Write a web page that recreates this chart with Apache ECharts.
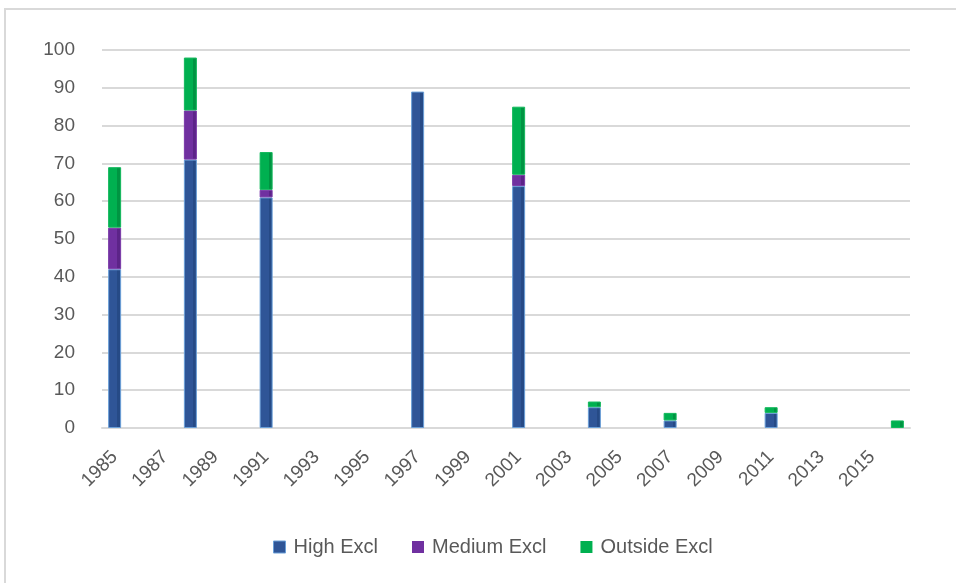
<!DOCTYPE html>
<html>
<head>
<meta charset="utf-8">
<script src="https://cdn.jsdelivr.net/npm/echarts@6/dist/echarts.min.js"></script>
<style>
  html, body { margin: 0; padding: 0; background: #fff; }
  #chart { width: 956px; height: 583px; }
</style>
</head>
<body>
<div id="chart"></div>
<script>
const years = [
  '1985', '1986', '1987', '1988', '1989', '1990', '1991', '1992',
  '1993', '1994', '1995', '1996', '1997', '1998', '1999', '2000',
  '2001', '2002', '2003', '2004', '2005', '2006', '2007', '2008',
  '2009', '2010', '2011', '2012', '2013', '2014', '2015', '2016',
]

// values per year, null where no bar is drawn
const highExcl = [
  42, null, null, 71, null, null, 61, null,
  null, null, null, null, 89, null, null, null,
  64, null, null, 5.5, null, null, 2, null,
  null, null, 4, null, null, null, null, null,
]
const mediumExcl = [
  11, null, null, 13, null, null, 2, null,
  null, null, null, null, null, null, null, null,
  3, null, null, null, null, null, null, null,
  null, null, null, null, null, null, null, null,
]
const outsideExcl = [
  16, null, null, 14, null, null, 10, null,
  null, null, null, null, null, null, null, null,
  18, null, null, 1.5, null, null, 2, null,
  null, null, 1.5, null, null, null, null, 2,
]

const yTicks = { min: 0, max: 100, interval: 10 }

const chart = echarts.init(document.getElementById('chart'))

const textColor = '#595959'
const font = '"Liberation Sans", Arial, sans-serif'

const series = [
  { name: 'High Excl', data: highExcl, color: '#2f5597', side: '#264a86', border: '#6a9fd8' },
  { name: 'Medium Excl', data: mediumExcl, color: '#7030a0', side: '#5c2488', border: '#7a3aa8' },
  { name: 'Outside Excl', data: outsideExcl, color: '#00b050', side: '#009442', border: '#12b85c' },
].map((s) => ({
  type: 'bar',
  name: s.name,
  stack: 'total',
  data: s.data,
  barWidth: 13,
  itemStyle: {
    color: new echarts.graphic.LinearGradient(0, 0, 1, 0, [
      { offset: 0, color: s.color },
      { offset: 0.72, color: s.color },
      { offset: 0.72, color: s.side },
      { offset: 1, color: s.side },
    ]),
    borderColor: s.border,
    borderWidth: 1,
  },
}))

chart.setOption({
  animation: false,
  color: ['#2f5597', '#7030a0', '#00b050'],
  textStyle: { fontFamily: font },
  graphic: [
    {
      type: 'rect',
      shape: { x: 5, y: 9, width: 1000, height: 1000 },
      style: { fill: 'none', stroke: '#d9d9d9', lineWidth: 2 },
      silent: true,
    },
  ],
  legend: {
    bottom: 21,
    left: 268,
    itemWidth: 12,
    itemHeight: 12,
    itemGap: 34,
    icon: 'rect',
    textStyle: { color: textColor, fontSize: 20, fontFamily: font, padding: [0, 0, 0, 3] },
    data: [
      { name: 'High Excl', itemStyle: { color: '#2f5597', borderColor: '#6a9fd8', borderWidth: 1 } },
      { name: 'Medium Excl', itemStyle: { color: '#7030a0', borderWidth: 0 } },
      { name: 'Outside Excl', itemStyle: { color: '#00b050', borderWidth: 0 } },
    ],
  },
  grid: { left: 102, right: 46, top: 50, bottom: 155 },
  xAxis: {
    type: 'category',
    data: years,
    axisLine: { show: true, lineStyle: { color: '#d9d9d9', width: 2 } },
    axisTick: { show: false },
    axisLabel: {
      interval: 1,
      rotate: 45,
      color: textColor,
      fontSize: 19,
      fontFamily: font,
      margin: 26,
    },
  },
  yAxis: {
    type: 'value',
    min: yTicks.min,
    max: yTicks.max,
    interval: yTicks.interval,
    axisLine: { show: false },
    axisTick: { show: false },
    axisLabel: { color: textColor, fontSize: 19, fontFamily: font, margin: 27 },
    splitLine: { lineStyle: { color: '#d9d9d9', width: 2 } },
  },
  series,
})
</script>
</body>
</html>
